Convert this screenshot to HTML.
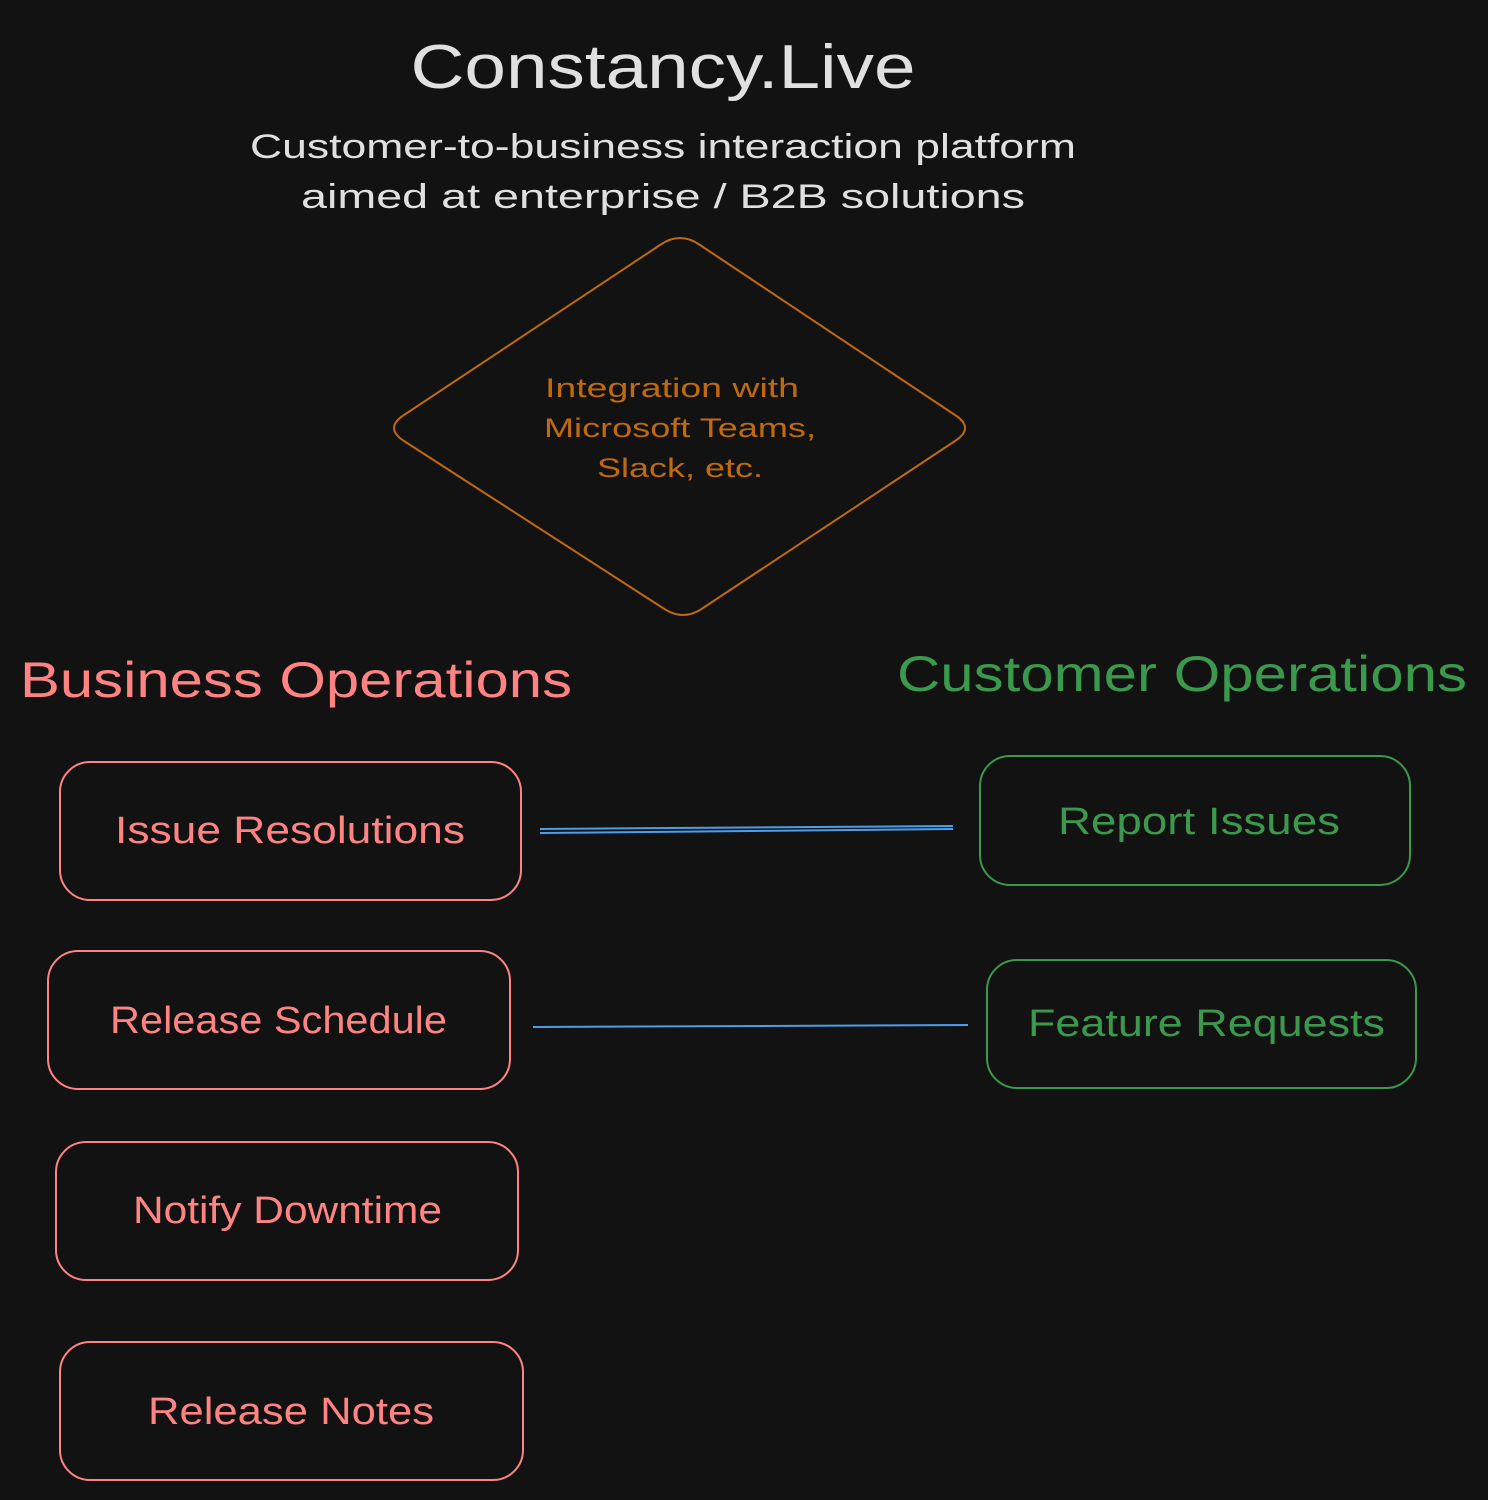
<!DOCTYPE html>
<html><head><meta charset="utf-8"><style>
html,body{margin:0;padding:0;background:#121212;}
svg{display:block;}
text{font-family:"Liberation Sans",sans-serif;}
</style></head><body>
<svg width="1488" height="1500" viewBox="0 0 1488 1500" xmlns="http://www.w3.org/2000/svg">
<rect width="1488" height="1500" fill="#121212"/>
<g fill="#e0e0e0" text-anchor="middle">
<text x="663" y="88" font-size="62" textLength="505" lengthAdjust="spacingAndGlyphs">Constancy.Live</text>
<text x="663" y="158" font-size="34" textLength="826" lengthAdjust="spacingAndGlyphs">Customer-to-business interaction platform</text>
<text x="663" y="208" font-size="34" textLength="724" lengthAdjust="spacingAndGlyphs">aimed at enterprise / B2B solutions</text>
</g>
<path d="M680 238 Q690 238 700 245 L955 415 Q975 428 955 441 L700 610 Q683 620 666 610 L404 441 Q384 428 404 415 L660 245 Q670 238 680 238 Z" fill="none" stroke="#c06a10" stroke-width="2"/>
<g fill="#c06a10" text-anchor="middle" font-size="27">
<text x="672" y="397" textLength="254" lengthAdjust="spacingAndGlyphs">Integration with</text>
<text x="680" y="437" textLength="272" lengthAdjust="spacingAndGlyphs">Microsoft Teams,</text>
<text x="680" y="477" textLength="166" lengthAdjust="spacingAndGlyphs">Slack, etc.</text>
</g>
<text x="20" y="697" font-size="50" fill="#ff8383" textLength="552" lengthAdjust="spacingAndGlyphs">Business Operations</text>
<text x="897" y="691" font-size="50" fill="#3a994c" textLength="570" lengthAdjust="spacingAndGlyphs">Customer Operations</text>
<g fill="none" stroke="#ff8383" stroke-width="2">
<rect x="60" y="762" width="461" height="138" rx="30"/>
<rect x="48" y="951" width="462" height="138" rx="30"/>
<rect x="56" y="1142" width="462" height="138" rx="30"/>
<rect x="60" y="1342" width="463" height="138" rx="30"/>
</g>
<g fill="none" stroke="#3a994c" stroke-width="2">
<rect x="980" y="756" width="430" height="129" rx="30"/>
<rect x="987" y="960" width="429" height="128" rx="30"/>
</g>
<g fill="#ff8383" font-size="38">
<text x="115" y="843" textLength="350" lengthAdjust="spacingAndGlyphs">Issue Resolutions</text>
<text x="110" y="1033" textLength="337" lengthAdjust="spacingAndGlyphs">Release Schedule</text>
<text x="133" y="1223" textLength="309" lengthAdjust="spacingAndGlyphs">Notify Downtime</text>
<text x="148" y="1424" textLength="286" lengthAdjust="spacingAndGlyphs">Release Notes</text>
</g>
<g fill="#3a994c" font-size="38">
<text x="1058" y="834" textLength="282" lengthAdjust="spacingAndGlyphs">Report Issues</text>
<text x="1028" y="1036" textLength="357" lengthAdjust="spacingAndGlyphs">Feature Requests</text>
</g>
<g stroke="#4a9eed" stroke-width="2" fill="none">
<path d="M540 829 L953 826"/>
<path d="M540 833 L953 829"/>
<path d="M533 1027 L968 1025"/>
</g>
</svg>
</body></html>
